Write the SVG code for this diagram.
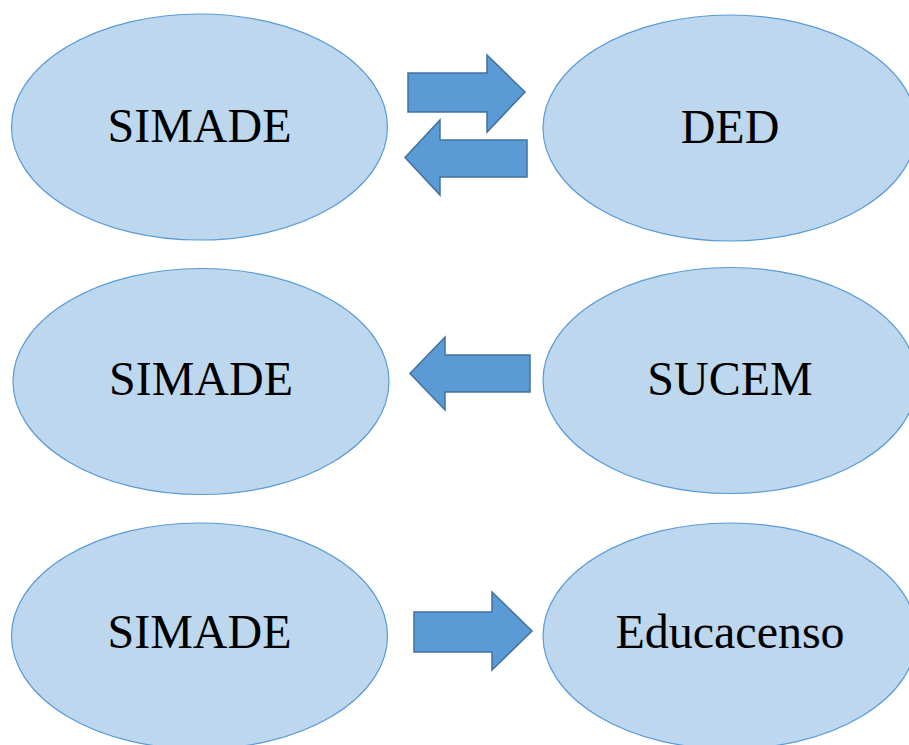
<svg xmlns="http://www.w3.org/2000/svg" width="909" height="745" viewBox="0 0 909 745">
<style>
.node ellipse{fill:#bdd7ee;stroke:#5b9bd5;stroke-width:1.2}
.node text{font-family:"Liberation Serif","Times New Roman",serif;font-size:48px;fill:#000;text-anchor:middle}
.arrow{fill:#5b9bd5;stroke:#41719c;stroke-width:1.5;stroke-linejoin:miter}
</style>
<rect width="909" height="745" fill="#fff"/>
<g id="simade1" class="node"><ellipse cx="199.5" cy="127" rx="188" ry="113"/><text x="199.5" y="142">SIMADE</text></g>
<g id="ded" class="node"><ellipse cx="730" cy="128" rx="187" ry="113"/><text x="730" y="143">DED</text></g>
<g id="simade2" class="node"><ellipse cx="201" cy="381.5" rx="188" ry="113"/><text x="201" y="395">SIMADE</text></g>
<g id="sucem" class="node"><ellipse cx="730" cy="380.5" rx="187" ry="113"/><text x="730" y="395">SUCEM</text></g>
<g id="simade3" class="node"><ellipse cx="199.5" cy="636" rx="188" ry="113"/><text x="199.5" y="648">SIMADE</text></g>
<g id="educacenso" class="node"><ellipse cx="730" cy="636" rx="187" ry="113"/><text x="730" y="648">Educacenso</text></g>
<g id="connectors">
<polygon class="arrow" points="408,73 487,73 487,55 525,92 487,132 487,112 408,112"/>
<polygon class="arrow" points="527,140 440,140 440,120 405,157.5 440,195 440,177 527,177"/>
<polygon class="arrow" points="530,355 445,355 445,337 410,373.5 445,410 445,392 530,392"/>
<polygon class="arrow" points="414,612 492,612 492,592 532,631 492,670 492,652 414,652"/>
</g>
</svg>
